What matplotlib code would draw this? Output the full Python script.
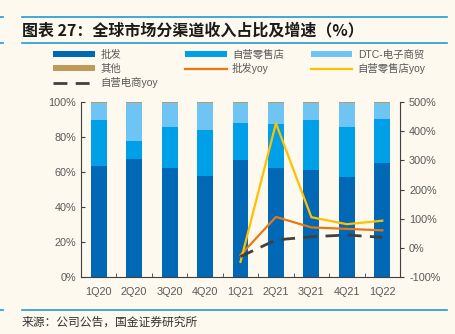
import matplotlib
matplotlib.use("Agg")
import matplotlib.pyplot as plt
import numpy as np
from matplotlib.lines import Line2D

plt.rcParams['font.family'] = ['Liberation Sans', 'Noto Sans CJK SC', 'DejaVu Sans']

# ---- data ----
quarters = ["1Q20", "2Q20", "3Q20", "4Q20", "1Q21", "2Q21", "3Q21", "4Q21", "1Q22"]
wholesale = [63.4, 67.4, 62.5, 57.7, 66.7, 62.5, 61.1, 57.0, 65.3]
retail = [26.1, 10.5, 23.4, 26.3, 21.5, 25.1, 28.4, 28.9, 24.8]
dtc = [10.0, 21.3, 13.7, 15.5, 11.3, 11.9, 10.0, 13.6, 9.4]
other = [0.5, 0.8, 0.4, 0.5, 0.5, 0.5, 0.5, 0.5, 0.5]

yoy_quarters = ["1Q21", "2Q21", "3Q21", "4Q21", "1Q22"]
wholesale_yoy = [-25, 106, 70, 65, 60]
retail_yoy = [-48, 427, 105, 81, 93]
ecom_yoy = [-30, 27, 38, 44, 36]

BG = "#FDF9EE"
C_WH = "#0068B5"
C_RT = "#00A0E9"
C_DTC = "#6EC5F4"
C_OT = "#C09A58"
C_WH_Y = "#E8780F"
C_RT_Y = "#FFC000"
C_EC_Y = "#404040"
TXT = "#595959"

fig = plt.figure(figsize=(4.56, 3.34), dpi=100, facecolor=BG)
ax = fig.add_axes([81/456, 1-277/334, 319/456, 175/334], facecolor=BG)

x = np.arange(len(quarters))
w = 0.45
b1 = np.array(wholesale)
b2 = b1 + np.array(retail)
b3 = b2 + np.array(dtc)
h1 = ax.bar(x, wholesale, w, color=C_WH)
h2 = ax.bar(x, retail, w, bottom=b1, color=C_RT)
h3 = ax.bar(x, dtc, w, bottom=b2, color=C_DTC)
h4 = ax.bar(x, other, w, bottom=b3, color=C_OT)

ax.set_xlim(-0.5, len(quarters) - 0.5)
ax.set_ylim(0, 100)
ax.set_yticks(np.arange(0, 101, 20))
ax.set_yticklabels([f"{v}%" for v in range(0, 101, 20)])
ax.set_xticks(x)
ax.set_xticklabels(quarters)
ax.set_xticks(np.arange(-0.5, len(quarters), 1), minor=True)
ax.tick_params(axis='x', which='major', length=0, pad=7, labelsize=7.8, labelcolor=TXT)
ax.tick_params(axis='x', which='minor', length=3, direction='in', color='#404040')
ax.tick_params(axis='y', length=3, direction='in', labelsize=7.8, labelcolor=TXT, color='#404040')
for s in ['top', 'right']:
    ax.spines[s].set_visible(False)
for s in ['left', 'bottom']:
    ax.spines[s].set_color('#404040')

ax2 = ax.twinx()
xi = [quarters.index(q) for q in yoy_quarters]
l1, = ax2.plot(xi, wholesale_yoy, color=C_WH_Y, lw=1.6)
l2, = ax2.plot(xi, retail_yoy, color=C_RT_Y, lw=1.6)
l3, = ax2.plot(xi, ecom_yoy, color=C_EC_Y, lw=2.0, dashes=(5, 3))
ax2.set_ylim(-100, 500)
ax2.set_yticks(np.arange(-100, 501, 100))
ax2.set_yticklabels([f"{v}%" for v in range(-100, 501, 100)])
ax2.tick_params(axis='y', length=3, direction='out', labelsize=7.8, labelcolor=TXT, color='#404040')
for s in ['top', 'left', 'bottom']:
    ax2.spines[s].set_visible(False)
ax2.spines['right'].set_color('#404040')

# legend (column-major order to get row-major layout)
handles = [h1, h4, l3, h2, l1, h3, l2]
labels = ["批发", "其他", "自营电商yoy", "自营零售店", "批发yoy", "DTC-电子商贸", "自营零售店yoy"]
fig.legend(handles, labels, ncol=3, loc='upper left', bbox_to_anchor=(44/456, 1-40/334),
           frameon=False, fontsize=7.5, handlelength=4.0, handleheight=0.6,
           handletextpad=0.5, columnspacing=2.6, labelspacing=0.35, labelcolor=TXT)

# title and frame lines
fig.text(22/456, 1-30/334, "图表 27：全球市场分渠道收入占比及增速（%）", fontsize=11.5,
         fontweight='bold', va='center', ha='left', color='#1a1a1a',
         family=['Noto Sans CJK SC', 'DejaVu Sans'])
for yy in [17, 43, 310]:
    fig.add_artist(Line2D([22/456, 447/456], [1-yy/334, 1-yy/334], color='#1E9BD7', lw=1.2))
for yy in [17, 43, 310]:
    fig.add_artist(Line2D([0, 3/456], [1-yy/334, 1-yy/334], color='#1E9BD7', lw=1.2))
fig.text(22/456, 1-322/334, "来源：公司公告，国金证券研究所", fontsize=8.5, va='center',
         ha='left', color='#333333', family=['Noto Sans CJK SC', 'DejaVu Sans'])

fig.savefig("out.png", dpi=100, facecolor=BG)
